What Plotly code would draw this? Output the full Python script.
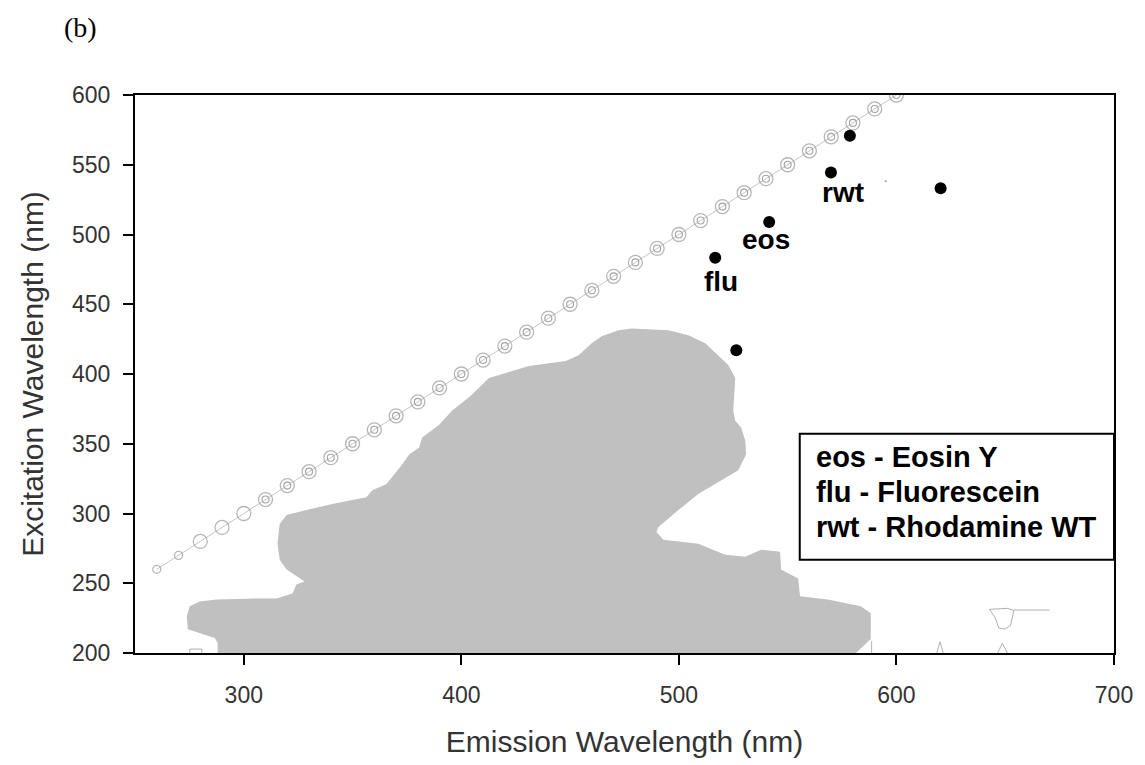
import plotly.graph_objects as go

# ---- data ----
# excitation-emission region (filled contour boundary), emission nm / excitation nm
region_em = [288.0, 288.0, 286.7, 279.8, 274.3, 273.8, 275.2, 279.8, 287.6, 306.4, 315.1, 322.4,
             324.2, 327.9, 324.2, 319.7, 316.5, 315.5, 316.5, 319.7, 328.8, 340.7, 356.3, 359.1,
             365.5, 368.2, 372.8, 376.0, 380.6, 382.0, 389.8, 395.7, 404.9, 412.7, 417.3, 431.0,
             448.0, 453.9, 459.9, 464.5, 472.3, 478.2, 495.2, 504.4, 512.1, 518.1, 522.7, 525.9,
             525.0, 525.9, 528.6, 530.5, 530.9, 527.3, 516.7, 508.9, 499.8, 490.6, 489.7, 492.9,
             508.9, 521.3, 530.5, 537.8, 546.5, 547.0, 554.8, 555.7, 568.5, 583.6, 588.2, 588.2,
             581.4]
region_ex = [200.0, 207.1, 210.7, 214.2, 217.1, 226.3, 233.5, 237.0, 238.4, 239.1, 239.1, 242.7,
             249.1, 251.2, 254.8, 259.8, 266.9, 278.3, 292.5, 298.9, 302.5, 306.8, 311.7, 316.7,
             321.0, 326.0, 335.2, 342.3, 347.3, 354.4, 363.7, 373.7, 385.1, 397.2, 399.3, 405.7,
             409.3, 413.5, 422.1, 427.0, 431.3, 432.7, 431.3, 427.8, 422.1, 413.5, 406.4, 397.2,
             373.7, 366.5, 361.6, 352.3, 342.3, 331.0, 321.0, 313.9, 302.5, 290.4, 286.8, 281.1,
             278.3, 270.5, 269.0, 274.0, 272.6, 259.8, 253.4, 240.6, 238.4, 233.5, 228.5, 210.0,
             200.0]

# Rayleigh scatter ridge (excitation = emission)
scatter_em = list(range(260, 601, 10))
scatter_ex = list(range(260, 601, 10))

# small minor contours
minor_em = [275.2, 275.2, 280.7, 280.7, None,
            588.6, 588.6, None,
            618.5, 620.0, 621.5, None,
            646.5, 648.7, 651.0, None,
            642.8, 651.0, 654.0, 652.4, 649.5, 647.0, 645.5, 642.8, None,
            654.0, 670.3]
minor_ex = [200.0, 202.8, 202.8, 200.0, None,
            200.0, 208.5, None,
            200.0, 208.0, 200.0, None,
            200.0, 207.0, 200.0, None,
            231.3, 232.0, 230.5, 219.5, 217.1, 218.0, 225.0, 231.3, None,
            230.8, 230.8]

# fluorescence peaks (black dots)
peak_em = [578.6, 569.9, 620.3, 541.5, 516.7, 526.4]
peak_ex = [570.8, 544.5, 533.1, 508.9, 483.3, 417.1]
stray_em = [595.1]
stray_ex = [538.1]

# labels
label_text = ["rwt", "eos", "flu"]
label_em = [575.4, 540.1, 519.5]
label_ex = [529.9, 496.4, 466.5]

legend_lines = ["eos - Eosin Y", "flu - Fluorescein", "rwt - Rhodamine WT"]

x_ticks = [300, 400, 500, 600, 700]
y_ticks = [200, 250, 300, 350, 400, 450, 500, 550, 600]

fig = go.Figure()

fig.add_trace(go.Scatter(x=region_em, y=region_ex, mode="lines", fill="toself",
                         fillcolor="#c0c0c0", line=dict(color="#c0c0c0", width=0),
                         hoverinfo="skip", showlegend=False))

fig.add_trace(go.Scatter(x=minor_em, y=minor_ex, mode="lines",
                         line=dict(color="#b0b0b0", width=1), hoverinfo="skip",
                         showlegend=False))

# scatter ridge: connecting thin line + rings
fig.add_trace(go.Scatter(x=scatter_em, y=scatter_ex, mode="lines",
                         line=dict(color="#b8b8b8", width=0.8), showlegend=False,
                         hoverinfo="skip"))
outer_sizes = [8 if e < 280 else 14 for e in scatter_em]
fig.add_trace(go.Scatter(x=scatter_em, y=scatter_ex, mode="markers",
                         marker=dict(symbol="circle-open", size=outer_sizes,
                                     color="#999999", line=dict(width=1.3, color="#999999")),
                         showlegend=False, hoverinfo="skip"))
inner_em = [e for e in scatter_em if e >= 310]
inner_ex = [e for e in scatter_ex if e >= 310]
fig.add_trace(go.Scatter(x=inner_em, y=inner_ex, mode="markers",
                         marker=dict(symbol="circle-open", size=7,
                                     color="#a4a4a4", line=dict(width=1.1, color="#a4a4a4")),
                         showlegend=False, hoverinfo="skip"))

fig.add_trace(go.Scatter(x=peak_em, y=peak_ex, mode="markers",
                         marker=dict(color="black", size=12), showlegend=False))
fig.add_trace(go.Scatter(x=stray_em, y=stray_ex, mode="markers",
                         marker=dict(color="#999999", size=2), showlegend=False))

for t, xe, ye in zip(label_text, label_em, label_ex):
    fig.add_annotation(x=xe, y=ye, text=t, showarrow=False, xanchor="center", yanchor="middle",
                       font=dict(family="Liberation Sans, Arial", size=28, color="black",
                                 weight="bold"))

# legend box
fig.add_shape(type="rect", xref="paper", yref="paper", x0=0.679, x1=1.0, y0=0.167, y1=0.393,
              line=dict(color="black", width=2), fillcolor="white", layer="above")
for i, line in enumerate(legend_lines):
    fig.add_annotation(xref="paper", yref="paper", x=0.6935, y=0.3505 - i * 0.0623,
                       text=line, showarrow=False, xanchor="left", yanchor="middle",
                       font=dict(family="Liberation Sans, Arial", size=29, color="black",
                                 weight="bold"))

fig.add_annotation(xref="paper", yref="paper", x=(80 - 135) / 982, y=(657 - 27) / 562,
                   text="(b)", showarrow=False, xanchor="center", yanchor="middle",
                   font=dict(family="Liberation Serif, Times New Roman", size=28, color="black"))

axis_common = dict(showgrid=False, zeroline=False, showline=True, linecolor="black",
                   linewidth=2, mirror=True, ticks="outside", ticklen=10, tickwidth=2,
                   tickcolor="black",
                   tickfont=dict(family="Liberation Sans, Arial", size=23, color="#333333"))

fig.update_xaxes(range=[250, 700], tickvals=x_ticks, ticklabelstandoff=10,
                 title=dict(text="Emission Wavelength (nm)", standoff=24,
                            font=dict(family="Liberation Sans, Arial", size=30, color="#333333")),
                 **axis_common)
fig.update_yaxes(range=[200, 600], tickvals=y_ticks, ticklabelstandoff=8,
                 title=dict(text="Excitation Wavelength (nm)", standoff=20,
                            font=dict(family="Liberation Sans, Arial", size=30, color="#333333")),
                 **axis_common)

fig.update_layout(width=1145, height=765, margin=dict(l=135, r=28, t=95, b=108),
                  plot_bgcolor="white", paper_bgcolor="white", showlegend=False)

fig.write_html("out.html", config={"displayModeBar": False},
               post_script="document.body.style.margin='0px';document.body.style.overflow='hidden';")
